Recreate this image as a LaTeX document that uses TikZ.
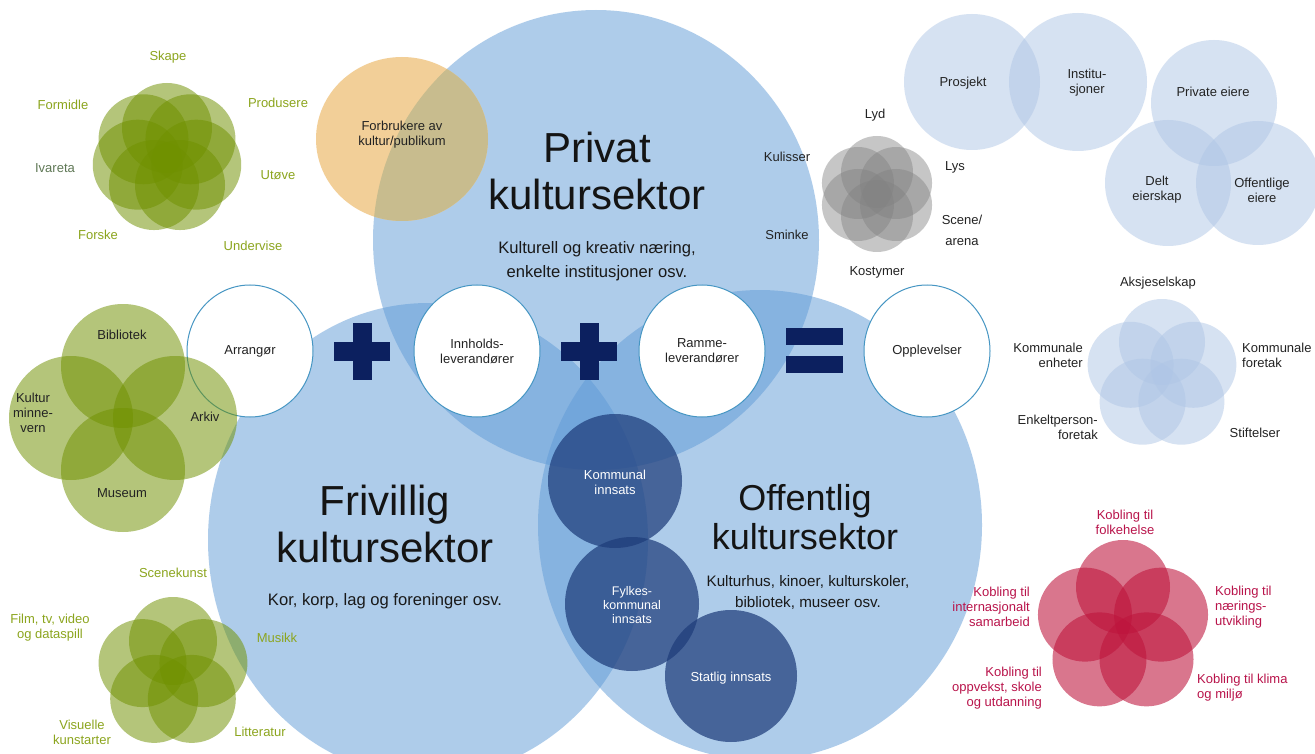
\documentclass[tikz,border=0pt]{standalone}
\usepackage{fontspec}
\setmainfont{Liberation Sans}
\definecolor{bigblue}{RGB}{95,155,215}
\definecolor{navyc}{RGB}{30,60,122}
\definecolor{opblue}{RGB}{12,32,95}
\definecolor{ringblue}{RGB}{70,150,195}
\definecolor{orangec}{RGB}{242,207,152}
\definecolor{khakic}{RGB}{200,188,142}
\definecolor{greenc}{RGB}{112,145,0}
\definecolor{greentxt}{RGB}{140,165,30}
\definecolor{greendark}{RGB}{95,120,85}
\definecolor{graycirc}{RGB}{130,130,130}
\definecolor{paleblue}{RGB}{175,198,230}
\definecolor{redc}{RGB}{190,20,60}
\definecolor{redtxt}{RGB}{185,20,75}
\definecolor{darktxt}{RGB}{35,35,35}
\begin{document}
\begin{tikzpicture}[x=1pt,y=-1pt,
  lbl/.style={font=\fontsize{13}{15}\selectfont, align=center, inner sep=0pt, text=darktxt},
  glbl/.style={lbl, text=greentxt},
  rlbl/.style={lbl, text=redtxt},
  wlbl/.style={lbl, text=white},
  bigtitle/.style={font=\fontsize{42}{47}\selectfont, align=center, inner sep=0pt, text=black!92},
  subtitle/.style={font=\fontsize{16.6}{24}\selectfont, align=center, inner sep=0pt, text=black!90},
  bigcirc/.style={fill=bigblue, fill opacity=0.5},
  innsats/.style={fill=navyc, fill opacity=0.72},
  whitecirc/.style={fill=white, draw=ringblue, line width=1pt},
  greenpetal/.style={fill=greenc, fill opacity=0.52},
  graypetal/.style={fill=graycirc, fill opacity=0.45},
  palepetal/.style={fill=paleblue, fill opacity=0.5},
  redpetal/.style={fill=redc, fill opacity=0.58},
  opsign/.style={fill=opblue}
]
\useasboundingbox (0,0) rectangle (1315,754);
\fill[white] (0,0) rectangle (1315,754);

% big sector circles
\fill[bigcirc] (428,540) ellipse [x radius=220pt, y radius=237pt];
\fill[bigcirc] (760,525) ellipse [x radius=222pt, y radius=235pt];
\fill[bigcirc] (596,240) ellipse [x radius=223pt, y radius=230pt];

% innsats circles
\fill[innsats] (615,481) circle (67pt);
\fill[innsats] (632,604) circle (67pt);
\fill[innsats] (731,676) circle (66pt);

% white circles
\filldraw[whitecirc] (250,351) ellipse [x radius=63pt, y radius=66pt];
\filldraw[whitecirc] (477,351) ellipse [x radius=63pt, y radius=66pt];
\filldraw[whitecirc] (702,351) ellipse [x radius=63pt, y radius=66pt];
\filldraw[whitecirc] (927,351) ellipse [x radius=63pt, y radius=66pt];

% operators
\foreach \cx in {362,589} {
  \fill[opsign] (\cx-28,342) rectangle (\cx+28,361);
  \fill[opsign] (\cx-9.5,323) rectangle (\cx+9.5,380);
}
\fill[opsign] (786,328) rectangle (843,345);
\fill[opsign] (786,356) rectangle (843,373);

% orange audience circle (with khaki overlap on the private sector)
\fill[orangec] (402,139) ellipse [x radius=86pt, y radius=82pt];
\begin{scope}
  \clip (596,240) ellipse [x radius=223pt, y radius=230pt];
  \fill[khakic] (402,139) ellipse [x radius=86pt, y radius=82pt];
\end{scope}

% green flower top-left (7)
\foreach \a in {0,...,6}
  \fill[greenpetal, shift={(167,158)}] (90+\a*360/7:30pt) circle (45pt);
% green flower middle-left (4)
\fill[greenpetal] (123,366) circle (62pt);
\fill[greenpetal] (71,418) circle (62pt);
\fill[greenpetal] (175,418) circle (62pt);
\fill[greenpetal] (123,470) circle (62pt);
% green flower bottom-left (5)
\foreach \a in {0,...,4}
  \fill[greenpetal, shift={(173,673)}] (90+\a*72:32pt) circle (44pt);

% gray flower (6)
\foreach \a in {0,...,5}
  \fill[graypetal, shift={(877,194)}] (90+\a*60:22pt) circle (36pt);

% pale blue circles top-right
\fill[palepetal] (972,82) circle (68pt);
\fill[palepetal] (1078,82) circle (69pt);
\fill[palepetal] (1214,103) circle (63pt);
\fill[palepetal] (1168,183) circle (63pt);
\fill[palepetal] (1258,183) circle (62pt);

% pale blue flower middle-right (5)
\foreach \a in {0,...,4}
  \fill[palepetal, shift={(1162,375)}] (90+\a*72:33pt) circle (43pt);

% red flower (5)
\foreach \a in {0,...,4}
  \fill[redpetal, shift={(1123,627)}] (90+\a*72:40pt) circle (47pt);

% ---- texts ----
\node[bigtitle] (privat) at (597,171) {Privat\\kultursektor};
\node[subtitle] (privatsub) at (597,261) {Kulturell og kreativ næring,\\enkelte institusjoner osv.};
\node[bigtitle] (frivillig) at (385,524) {Frivillig\\kultursektor};
\node[subtitle] (frivilligsub) at (385,601) {Kor, korp, lag og foreninger osv.};
\node[bigtitle, font=\fontsize{36}{39}\selectfont] (offentlig) at (805,517) {Offentlig\\kultursektor};
\node[subtitle, font=\fontsize{15.2}{21}\selectfont] (offentligsub) at (808,592) {Kulturhus, kinoer, kulturskoler,\\bibliotek, museer osv.};

\node[lbl] (forbr) at (402,135) {Forbrukere av\\kultur/publikum};

\node[lbl] (arr) at (250,351) {Arrangør};
\node[lbl] (innh) at (477,351) {Innholds-\\leverandører};
\node[lbl] (ramme) at (702,351) {Ramme-\\leverandører};
\node[lbl] (oppl) at (927,351) {Opplevelser};

\node[wlbl] (komm) at (615,482) {Kommunal\\innsats};
\node[wlbl, font=\fontsize{12.5}{14}\selectfont] (fylk) at (632,605) {Fylkes-\\kommunal\\innsats};
\node[wlbl] (stat) at (731,678) {Statlig innsats};

% green labels top-left
\node[glbl] (skape) at (168,57) {Skape};
\node[glbl] (formidle) at (63,105) {Formidle};
\node[glbl] (produsere) at (278,103) {Produsere};
\node[glbl, text=greendark] (ivareta) at (55,168) {Ivareta};
\node[glbl] (utove) at (278,175) {Utøve};
\node[glbl] (forske) at (98,235) {Forske};
\node[glbl] (undervise) at (253,246) {Undervise};

% middle-left labels
\node[lbl] (bibl) at (122,335) {Bibliotek};
\node[lbl] (kmv) at (33,413) {Kultur\\minne-\\vern};
\node[lbl] (arkiv) at (205,417) {Arkiv};
\node[lbl] (museum) at (122,493) {Museum};

% bottom-left labels
\node[glbl] (scene) at (173,573) {Scenekunst};
\node[glbl] (film) at (50,628) {Film, tv, video\\og dataspill};
\node[glbl] (musikk) at (277,638) {Musikk};
\node[glbl] (visu) at (82,732) {Visuelle\\kunstarter};
\node[glbl] (litt) at (260,732) {Litteratur};

% gray labels
\node[lbl] (lyd) at (875,115) {Lyd};
\node[lbl] (kul) at (787,157) {Kulisser};
\node[lbl] (lys) at (955,167) {Lys};
\node[lbl, font=\fontsize{13}{21}\selectfont] (scenear) at (962,230) {Scene/\\arena};
\node[lbl] (sminke) at (787,235) {Sminke};
\node[lbl] (kost) at (877,272) {Kostymer};

% top-right labels
\node[lbl] (prosj) at (963,83) {Prosjekt};
\node[lbl] (inst) at (1087,83) {Institu-\\sjoner};
\node[lbl] (priv) at (1213,92) {Private eiere};
\node[lbl] (delt) at (1157,190) {Delt\\eierskap};
\node[lbl] (offe) at (1262,190) {Offentlige\\eiere};

% middle-right labels
\node[lbl] (aksje) at (1158,283) {Aksjeselskap};
\node[lbl, anchor=east, align=right] (kenh) at (1083,355) {Kommunale\\enheter};
\node[lbl, anchor=west, align=left] (kfor) at (1242,355) {Kommunale\\foretak};
\node[lbl, anchor=east, align=right] (enk) at (1098,427) {Enkeltperson-\\foretak};
\node[lbl] (stift) at (1255,433) {Stiftelser};

% red labels
\node[rlbl] (folk) at (1125,522) {Kobling til\\folkehelse};
\node[rlbl, anchor=east, align=right] (inter) at (1030,607) {Kobling til\\internasjonalt\\samarbeid};
\node[rlbl, anchor=west, align=left] (naer) at (1215,607) {Kobling til\\nærings-\\utvikling};
\node[rlbl, anchor=east, align=right] (oppv) at (1042,688) {Kobling til\\oppvekst, skole\\og utdanning};
\node[rlbl, anchor=west, align=left] (klima) at (1197,688) {Kobling til klima\\og miljø};
\end{tikzpicture}
\end{document}
